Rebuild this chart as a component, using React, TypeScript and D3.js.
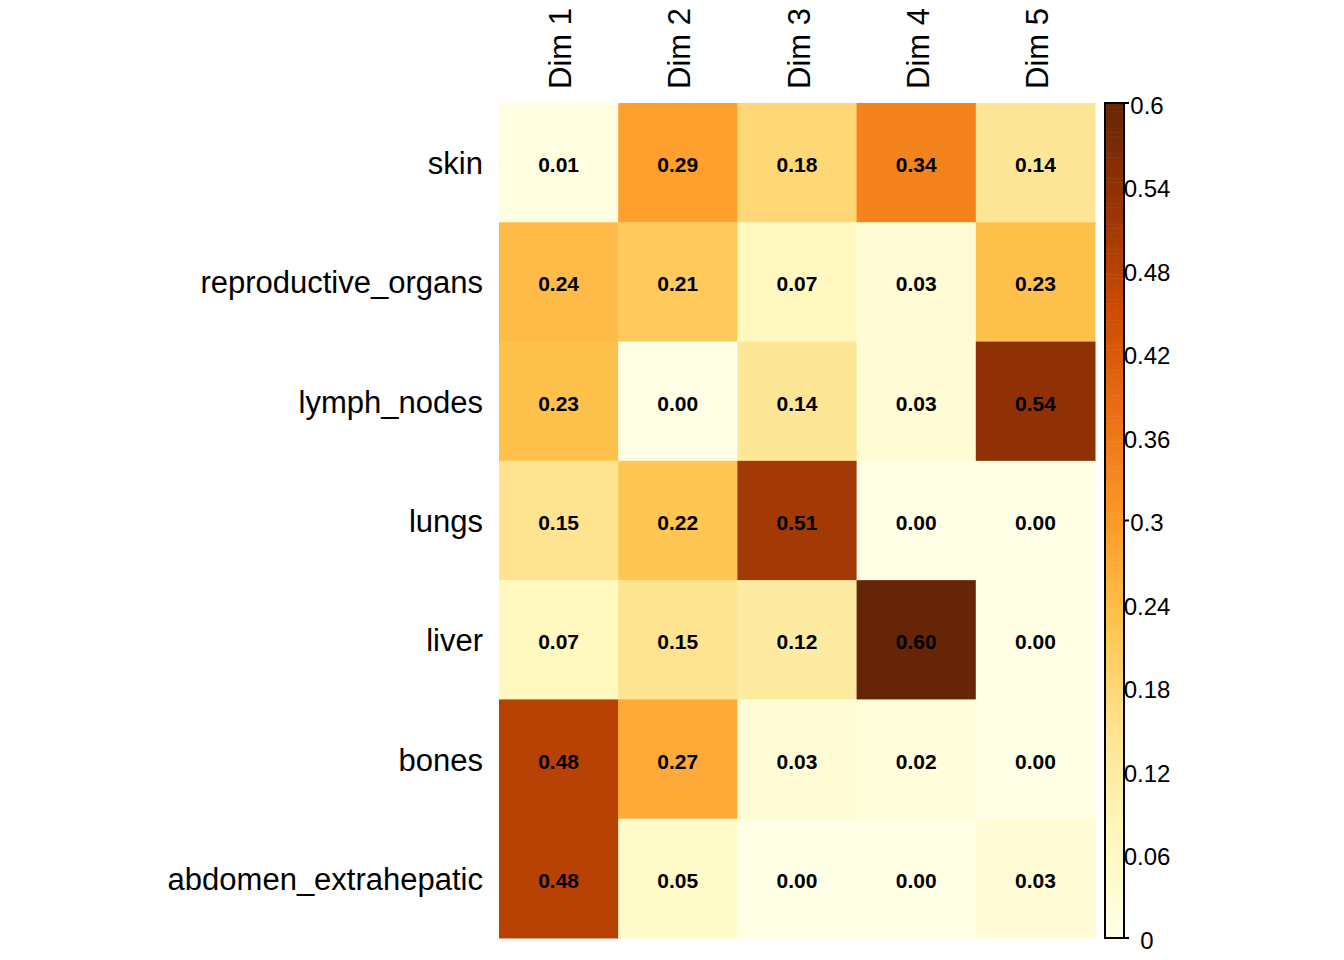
import { useEffect, useRef } from 'react'
import * as d3 from 'd3'

const rows = ['skin', 'reproductive_organs', 'lymph_nodes', 'lungs', 'liver', 'bones', 'abdomen_extrahepatic']
const dims = ['Dim 1', 'Dim 2', 'Dim 3', 'Dim 4', 'Dim 5']

const skin = [0.01, 0.29, 0.18, 0.34, 0.14]
const reproductive = [0.24, 0.21, 0.07, 0.03, 0.23]
const lymph = [0.23, 0.0, 0.14, 0.03, 0.54]
const lungs = [0.15, 0.22, 0.51, 0.0, 0.0]
const liver = [0.07, 0.15, 0.12, 0.6, 0.0]
const bones = [0.48, 0.27, 0.03, 0.02, 0.0]
const abdomen = [0.48, 0.05, 0.0, 0.0, 0.03]
const values = [skin, reproductive, lymph, lungs, liver, bones, abdomen]

const legendTicks = [0, 0.06, 0.12, 0.18, 0.24, 0.3, 0.36, 0.42, 0.48, 0.54, 0.6]
const markedTicks = [0, 0.3, 0.6]

const palette = ['#FFFFE5', '#FFF7BC', '#FEE391', '#FEC44F', '#FE9929', '#EC7014', '#CC4C02', '#993404', '#662506']

export default function App() {
  const svgRef = useRef<SVGSVGElement>(null)

  useEffect(() => {
    if (!svgRef.current) return
    const svg = d3.select(svgRef.current)
    svg.selectAll('*').remove()

    const font = 'Liberation Sans, Arial, sans-serif'
    const left = 499, right = 1095, top = 103, bottom = 938

    const x = d3.scaleBand().domain(dims).range([left, right])
    const y = d3.scaleBand().domain(rows).range([top, bottom])

    const color = d3.scaleLinear<string>()
      .domain(palette.map((_, i) => (0.6 * i) / (palette.length - 1)))
      .range(palette)
      .interpolate(d3.interpolateRgb)

    const cells = rows.flatMap((r, i) => dims.map((d, j) => ({ r, d, v: values[i][j] })))

    svg.append('g').selectAll('rect')
      .data(cells)
      .enter().append('rect')
      .attr('x', c => x(c.d)!)
      .attr('y', c => y(c.r)!)
      .attr('width', x.bandwidth() + 0.5)
      .attr('height', y.bandwidth() + 0.5)
      .attr('fill', c => color(c.v))

    svg.append('g').selectAll('text')
      .data(cells)
      .enter().append('text')
      .attr('x', c => x(c.d)! + x.bandwidth() / 2)
      .attr('y', c => y(c.r)! + y.bandwidth() / 2 + 2)
      .attr('text-anchor', 'middle')
      .attr('dominant-baseline', 'central')
      .attr('font-family', font)
      .attr('font-weight', 'bold')
      .attr('font-size', 21)
      .attr('fill', '#000')
      .text(c => c.v.toFixed(2))

    // row labels
    svg.append('g').selectAll('text')
      .data(rows)
      .enter().append('text')
      .attr('x', 483)
      .attr('y', r => y(r)! + y.bandwidth() / 2 + 1)
      .attr('text-anchor', 'end')
      .attr('dominant-baseline', 'central')
      .attr('font-family', font)
      .attr('font-size', 31)
      .text(r => r)

    // column labels
    svg.append('g').selectAll('text')
      .data(dims)
      .enter().append('text')
      .attr('transform', d => `translate(${x(d)! + x.bandwidth() / 2 + 2},89) rotate(-90)`)
      .attr('text-anchor', 'start')
      .attr('dominant-baseline', 'central')
      .attr('font-family', font)
      .attr('font-size', 31)
      .text(d => d)

    // colour bar
    const barL = 1105, barR = 1124
    const ly = d3.scaleLinear().domain([0, 0.6]).range([bottom, top])
    const steps = d3.range(200).map(i => (0.6 * i) / 200)
    const step = 0.6 / 200
    svg.append('g').selectAll('rect')
      .data(steps)
      .enter().append('rect')
      .attr('x', barL)
      .attr('width', barR - barL)
      .attr('y', v => ly(v + step))
      .attr('height', v => ly(v) - ly(v + step) + 0.5)
      .attr('fill', v => color(v + step / 2))

    svg.append('rect')
      .attr('x', barL).attr('y', top)
      .attr('width', barR - barL).attr('height', bottom - top)
      .attr('fill', 'none').attr('stroke', '#000').attr('stroke-width', 2)

    svg.append('g').selectAll('line')
      .data(markedTicks)
      .enter().append('line')
      .attr('x1', barR).attr('x2', barR + 5)
      .attr('y1', v => ly(v)).attr('y2', v => ly(v))
      .attr('stroke', '#000').attr('stroke-width', 2)

    svg.append('g').selectAll('text')
      .data(legendTicks)
      .enter().append('text')
      .attr('x', 1147)
      .attr('y', v => ly(v) + 2)
      .attr('text-anchor', 'middle')
      .attr('dominant-baseline', 'central')
      .attr('font-family', font)
      .attr('font-size', 24)
      .text(v => String(parseFloat(v.toFixed(2))))
  }, [])

  return (
    <svg ref={svgRef} width={1344} height={960}
      style={{ position: 'absolute', left: 0, top: 0, background: '#fff' }} />
  )
}
